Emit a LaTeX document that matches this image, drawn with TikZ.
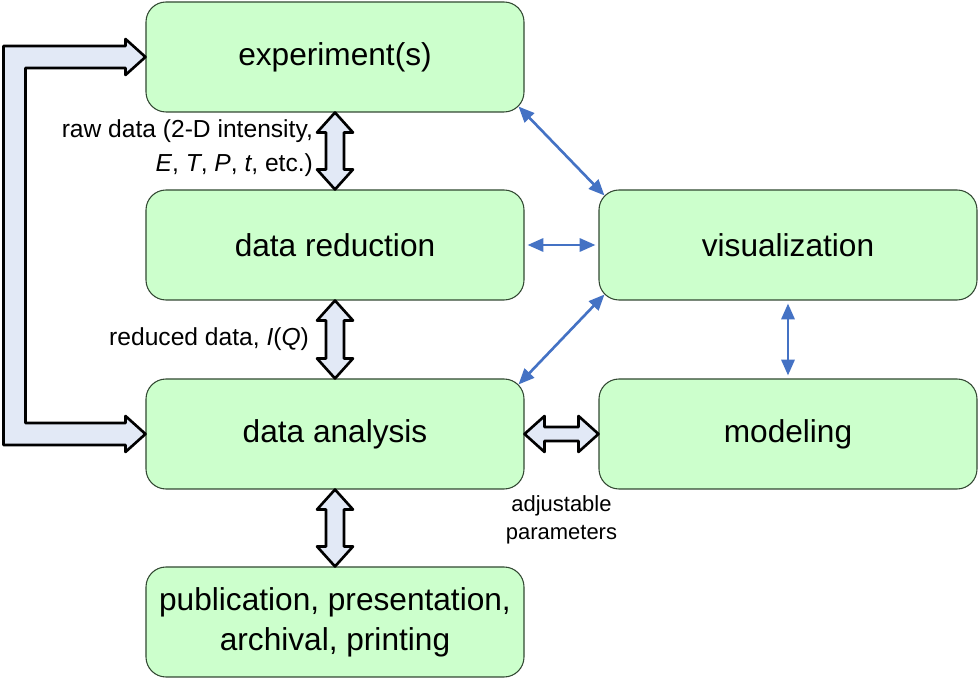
\documentclass[tikz,border=0pt]{standalone}
\usepackage{fontspec}
\setmainfont{Liberation Sans}
\usetikzlibrary{arrows.meta, calc}

\definecolor{boxgreen}{RGB}{204,255,204}
\definecolor{boxline}{RGB}{50,72,50}
\definecolor{fatfill}{RGB}{226,233,246}
\definecolor{linkblue}{RGB}{68,114,196}

% 粗双箭头:#1 杆半宽, #2 上/左端点, #3 下/右端点
\def\hw{18}   % 箭头半宽
\def\hl{20}   % 箭头长度
\newcommand{\fatvert}[3]{%
  \draw[fatarrow] (#2) -- ++(\hw,-\hl) -- ++(#1-\hw,0) -- ($(#3)+(#1,\hl)$) -- ++(\hw-#1,0)
    -- (#3) -- ++(-\hw,\hl) -- ++(\hw-#1,0) -- ($(#2)+(-#1,-\hl)$) -- ++(#1-\hw,0) -- cycle;}
\newcommand{\fathorz}[3]{%
  \draw[fatarrow] (#2) -- ++(\hl,\hw) -- ++(0,#1-\hw) -- ($(#3)+(-\hl,#1)$) -- ++(0,\hw-#1)
    -- (#3) -- ++(-\hl,-\hw) -- ++(0,\hw-#1) -- ($(#2)+(\hl,-#1)$) -- ++(0,#1-\hw) -- cycle;}

\begin{document}
\begin{tikzpicture}[
  x=0.2mm, y=0.2mm, % 1 单位 = 参考图 1 像素
  stagebox/.style={draw=boxline, fill=boxgreen, rounded corners=4mm, line width=0.6pt,
                   minimum width=75.6mm, minimum height=22mm, align=center,
                   font=\fontsize{18}{22.7}\selectfont, inner sep=2pt},
  fatarrow/.style={draw=black, fill=fatfill, line width=1.5pt, line join=round},
  link/.style={draw=linkblue, line width=1.5pt,
               {Triangle[length=9pt,width=7.5pt]}-{Triangle[length=9pt,width=7.5pt]}},
  note/.style={font=\fontsize{14}{19.5}\selectfont, inner sep=1pt}
]
  \useasboundingbox (0,0) rectangle (978,682);

  % 各处理阶段
  \node[stagebox] (exp) at (335,625) {experiment(s)};
  \node[stagebox] (red) at (335,437) {data reduction};
  \node[stagebox] (ana) at (335,248) {data analysis};
  \node[stagebox] (pub) at (335,60)  {publication, presentation,\\archival, printing};
  \node[stagebox] (vis) at (788,437) {visualization};
  \node[stagebox] (mod) at (788,248) {modeling};

  % 粗箭头
  \fatvert{9}{exp.south}{red.north}
  \fatvert{9}{red.south}{ana.north}
  \fatvert{9}{ana.south}{pub.north}
  \fathorz{7}{ana.east}{mod.west}

  % 左侧回路箭头
  \def\sw{11}
  \coordinate (back) at (14.5,0);
  \path (exp.west) ++(-\hl,0) coordinate (topbase);
  \path (ana.west) ++(-\hl,0) coordinate (botbase);
  \draw[fatarrow] (exp.west) -- ($(topbase)+(0,\hw)$) -- ($(topbase)+(0,\sw)$)
    -- ($(back |- topbase)+(-\sw,\sw)$) -- ($(back |- botbase)+(-\sw,-\sw)$)
    -- ($(botbase)+(0,-\sw)$) -- ($(botbase)+(0,-\hw)$) -- (ana.west)
    -- ($(botbase)+(0,\hw)$) -- ($(botbase)+(0,\sw)$)
    -- ($(back |- botbase)+(\sw,\sw)$) -- ($(back |- topbase)+(\sw,-\sw)$)
    -- ($(topbase)+(0,-\sw)$) -- ($(topbase)+(0,-\hw)$) -- cycle;

  % 与可视化的连接
  \draw[link] ($(exp.south east)+(-6,6)$) -- ($(vis.north west)+(6,-6)$);
  \draw[link] ($(red.east)+(3,0)$) -- ($(vis.west)+(-3,0)$);
  \draw[link] ($(ana.north east)+(-6,-6)$) -- ($(vis.south west)+(6,6)$);
  \draw[link] ($(vis.south)+(0,-3)$) -- ($(mod.north)+(0,3)$);

  % 标注
  \node[note, anchor=east, align=right] (rawlbl) at ($(exp.south)!0.5!(red.north)+(-20,3)$)
    {raw data (2-D intensity,\\\textit{E}, \textit{T}, \textit{P}, \textit{t}, etc.)};
  \node[note, anchor=east] (redlbl) at ($(red.south)!0.5!(ana.north)+(-24,0)$)
    {reduced data, \textit{I}(\textit{Q})};
  \node[note, font=\fontsize{12.5}{15.9}\selectfont, anchor=north, align=center] (parlbl)
    at ($(ana.south east)!0.5!(mod.south west)+(0,-4)$) {adjustable\\parameters};
\end{tikzpicture}
\end{document}
